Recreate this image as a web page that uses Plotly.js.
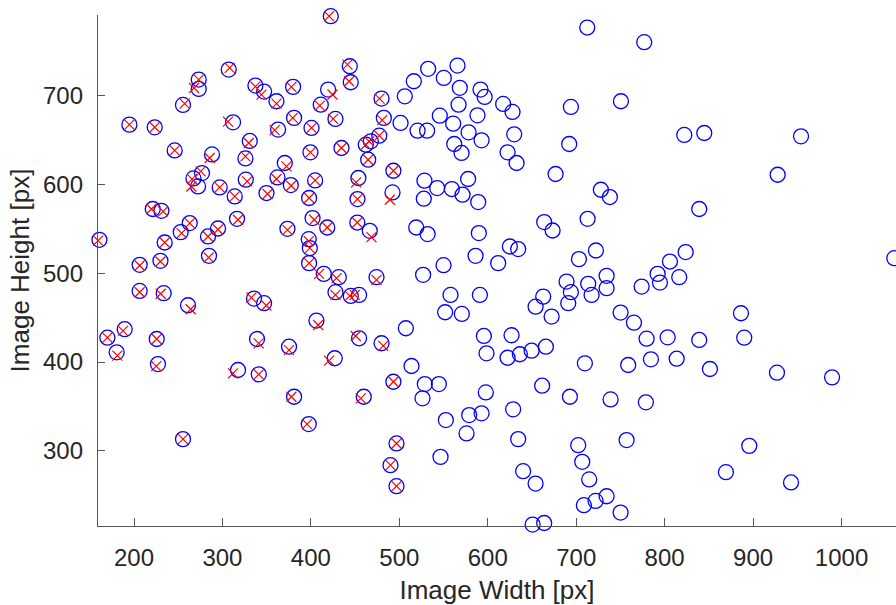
<!DOCTYPE html>
<html>
<head>
<meta charset="utf-8">
<script src="https://cdn.plot.ly/plotly-3.0.1.min.js"></script>
<style>
html,body{margin:0;padding:0;background:#fff;}
#chart{width:896px;height:605px;}
</style>
</head>
<body>
<div id="chart"></div>
<script>
// Blue circles: image width / height [px]
const circleWidth = [
  307.1,273.2,273.2,255.4,337.3,347.1,361.1,379.9,381.0,194.8,
  223.4,312.0,362.9,246.0,330.9,326.0,288.2,370.5,362.2,377.3,
  276.9,267.2,272.4,296.9,313.9,326.4,349.8,221.2,231.0,263.0,
  252.8,316.5,295.0,283.7,234.7,160.9,373.5,206.4,229.9,284.8,
  206.4,233.6,261.1,335.7,347.1,189.5,169.9,180.4,225.7,339.1,
  375.3,227.1,317.6,341.1,381.0,255.4,422.5,444.0,445.1,419.5,411.2,
  427.8,400.7,479.9,482.5,477.3,467.8,462.1,464.8,434.6,399.5,
  493.3,453.7,404.8,452.7,398.0,492.3,401.9,418.5,452.5,466.6,
  397.6,398.8,398.0,414.6,431.6,474.2,427.8,445.1,454.5,406.3,
  454.5,479.9,427.0,493.3,459.8,397.6,496.8,490.0,496.8,
  506.2,516.4,532.6,550.3,565.8,568.4,591.8,596.5,567.0,588.4,
  545.8,560.9,501.4,520.6,531.4,578.3,593.0,562.1,570.4,
  528.4,542.8,559.4,577.8,571.5,527.7,589.2,
  519.1,532.0,589.9,550.0,586.2,526.9,557.9,591.1,551.8,570.7,
  507.4,595.6,598.6,513.8,528.8,544.7,526.2,597.8,552.6,579.0,593.0,576.0,546.6,
  712.5,776.9,617.4,628.0,694.0,750.6,629.9,692.1,822.2,622.4,632.6,676.7,
  727.9,738.1,663.8,673.3,712.9,625.0,634.4,611.8,703.1,722.3,806.0,823.8,
  689.1,694.0,691.0,713.6,717.4,734.4,734.4,774.0,792.1,794.7,816.5,
  662.7,654.1,672.2,750.2,765.3,626.9,622.4,636.3,649.6,665.7,709.8,758.8,
  779.6,803.4,784.5,813.6,661.5,628.7,692.9,738.9,778.8,634.4,702.3,757.0,
  640.0,654.1,706.8,714.7,708.7,721.9,734.4,750.2,650.7,663.8,
  844.8,954.2,927.8,839.1,1059.7,886.3,839.1,890.0,851.2,927.0,989.3,895.7,869.3,942.9
];
const circleHeight = [
  729.2,717.9,707.4,689.4,711.2,704.4,693.5,709.7,674.8,667.2,
  664.2,669.8,661.6,638.2,648.8,629.2,633.7,624.0,607.8,599.2,
  612.7,606.6,597.6,596.5,586.4,605.2,590.2,572.2,570.2,556.4,
  546.2,561.2,550.3,541.3,534.5,537.5,549.9,509.4,513.9,519.5,
  480.0,477.5,463.9,471.4,466.2,436.9,427.4,410.9,425.9,425.9,
  417.2,397.7,391.0,386.1,360.9,313.2,789.3,732.9,714.9,706.7,689.7,
  673.6,663.5,696.5,674.8,654.8,648.4,644.6,627.7,640.9,636.0,
  615.3,607.1,604.4,583.4,584.6,590.9,562.0,551.4,557.0,547.7,
  538.3,528.2,511.3,499.2,495.5,495.5,478.6,474.4,475.5,446.6,
  426.7,421.1,404.2,377.8,360.9,330.1,308.3,283.9,260.2,
  699.1,716.0,730.0,719.8,733.7,708.6,706.7,698.4,689.7,677.7,
  677.3,668.3,669.1,660.4,660.4,658.5,649.5,645.4,635.3,
  604.1,595.8,594.7,606.0,588.3,583.8,580.0,
  551.4,544.0,545.1,509.0,519.5,498.1,475.5,475.5,456.0,454.1,
  438.0,429.3,409.8,395.5,375.2,375.2,359.1,365.8,334.6,340.3,342.2,319.6,293.2,
  776.5,760.0,690.5,681.5,687.1,693.5,656.3,645.4,655.6,636.0,624.0,611.6,
  593.9,585.7,557.5,548.0,561.2,530.0,527.1,511.3,515.8,525.5,513.1,523.7,
  490.5,478.6,466.2,488.0,475.5,497.0,483.1,484.9,499.2,489.4,495.5,
  473.6,462.3,451.1,455.6,444.3,430.1,404.8,408.7,412.7,417.2,398.5,396.6,
  426.3,427.8,403.0,403.7,373.3,346.7,360.9,357.9,354.6,313.2,306.4,312.1,
  277.1,263.2,287.6,267.8,238.8,243.6,248.9,230.5,217.0,218.8,
  657.8,654.0,610.8,572.2,516.9,454.9,424.8,427.4,392.1,388.0,382.7,305.6,276.0,264.4
];
// Red crosses
const crossWidth = [
  308.2,273.2,267.9,257.3,337.3,344.1,361.1,378.0,379.5,194.8,
  223.4,306.3,359.1,246.0,329.8,326.0,285.6,372.4,361.1,377.7,
  275.4,265.7,264.9,296.9,313.9,327.9,351.0,219.7,232.9,263.0,
  253.9,317.6,295.0,283.7,234.7,159.4,373.5,206.4,229.9,284.4,
  206.4,230.2,264.1,332.7,349.7,187.6,169.9,181.2,225.7,341.0,
  375.3,225.2,311.9,341.1,378.0,255.4,420.6,441.4,443.2,424.4,410.1,
  425.2,400.7,477.6,480.6,477.3,465.9,462.1,464.8,434.6,399.5,
  493.3,451.1,404.8,452.7,398.0,489.3,403.8,418.5,452.5,468.5,
  397.6,398.8,398.0,409.3,429.0,474.2,427.8,444.0,449.6,408.2,
  450.7,481.8,420.6,493.3,456.4,395.7,496.8,490.0,496.8
];
const crossHeight = [
  731.1,717.9,708.4,690.9,710.0,701.0,690.9,709.7,674.8,667.2,
  664.2,670.5,661.0,638.2,646.5,631.5,629.6,620.2,606.0,598.4,
  614.6,605.8,597.6,596.5,586.4,603.3,589.1,572.2,569.5,556.4,
  545.1,560.1,549.2,541.3,534.5,536.7,548.8,508.6,513.1,517.6,
  478.5,476.8,459.4,472.5,463.6,435.0,427.4,407.1,425.9,421.0,
  413.4,395.4,387.2,386.1,360.9,313.2,789.3,734.8,716.0,701.1,688.6,
  673.6,663.5,696.5,672.2,654.8,648.4,644.6,627.7,640.9,636.0,
  615.3,602.2,604.4,583.4,584.6,582.6,560.1,551.4,557.0,540.6,
  536.0,528.2,511.3,499.2,494.5,492.5,475.6,474.4,475.5,441.7,
  429.3,418.1,401.6,377.8,359.0,330.1,308.3,283.9,260.2
];
const xTicks = [200,300,400,500,600,700,800,900,1000];
const yTicks = [300,400,500,600,700];

const axisColor = '#555555';
const textColor = '#262626';
const fontFam = 'Liberation Sans, Arial, Helvetica, sans-serif';

const traces = [
  {
    x: circleWidth, y: circleHeight, type: 'scatter', mode: 'markers',
    cliponaxis: false, hoverinfo: 'skip',
    marker: {symbol: 'circle-open', size: 15, color: '#0000ff', line: {width: 1.3, color: '#0000ff'}}
  },
  {
    x: crossWidth, y: crossHeight, type: 'scatter', mode: 'markers',
    cliponaxis: false, hoverinfo: 'skip',
    marker: {symbol: 'x-thin-open', size: 10, color: '#ff0000', line: {width: 1.2, color: '#ff0000'}}
  }
];

const layout = {
  width: 896, height: 605,
  margin: {l: 98, r: 0, t: 15, b: 79, pad: 0},
  paper_bgcolor: '#ffffff', plot_bgcolor: '#ffffff',
  showlegend: false,
  font: {family: fontFam, color: textColor},
  xaxis: {
    range: [159.3, 1061.6], autorange: false,
    tickvals: xTicks, ticktext: xTicks.map(String),
    ticks: 'inside', ticklen: 8, tickwidth: 1, tickcolor: axisColor,
    showline: true, linecolor: axisColor, linewidth: 1.2,
    showgrid: false, zeroline: false, mirror: false,
    tickfont: {size: 24, color: textColor, family: fontFam},
    ticklabelstandoff: 10,
    automargin: false,
    title: {text: 'Image Width [px]', font: {size: 26, color: textColor, family: fontFam}, standoff: 10}
  },
  yaxis: {
    range: [215.4, 790.6], autorange: false,
    tickvals: yTicks, ticktext: yTicks.map(String),
    ticks: 'inside', ticklen: 7, tickwidth: 1, tickcolor: axisColor,
    showline: true, linecolor: axisColor, linewidth: 1.2,
    showgrid: false, zeroline: false, mirror: false,
    tickfont: {size: 24, color: textColor, family: fontFam},
    ticklabelstandoff: 9,
    automargin: false,
    title: {text: 'Image Height [px]', font: {size: 26, color: textColor, family: fontFam}, standoff: 5}
  }
};

Plotly.newPlot('chart', traces, layout, {staticPlot: true, displayModeBar: false});
</script>
</body>
</html>
